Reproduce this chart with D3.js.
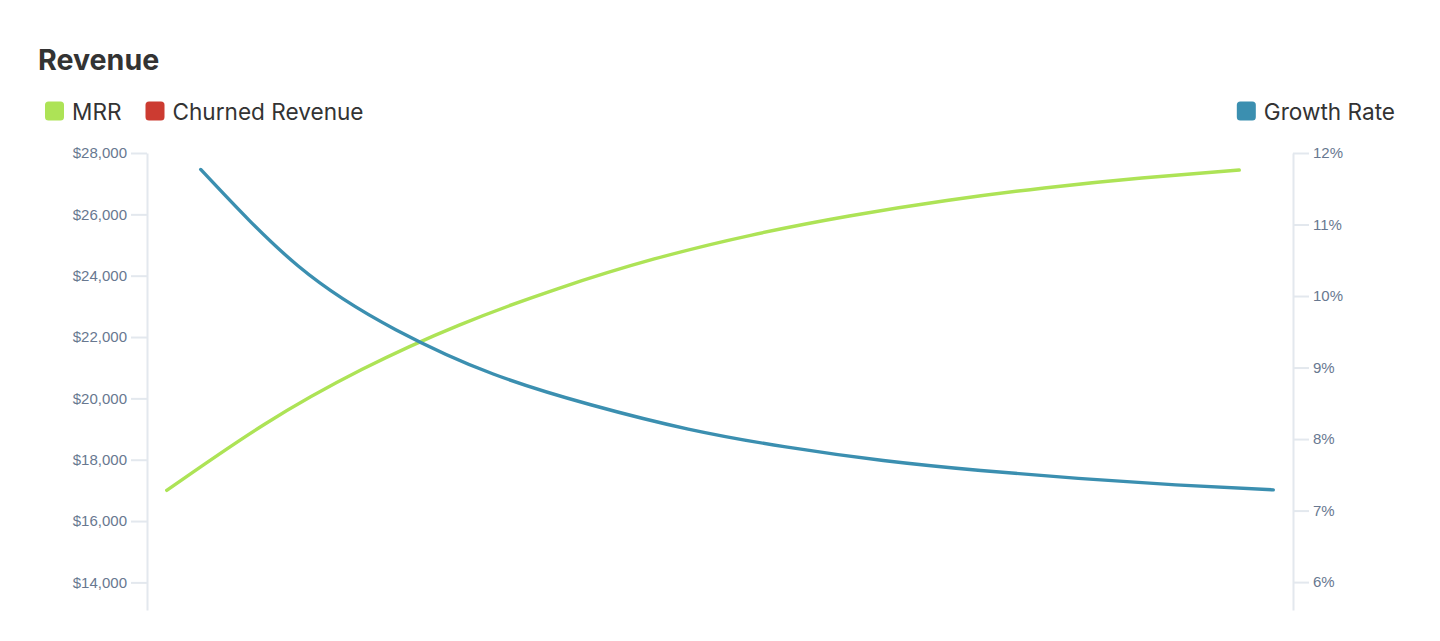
<!DOCTYPE html>
<html>
<head>
<meta charset="utf-8">
<script src="https://cdn.jsdelivr.net/npm/d3@7"></script>
<style>
  html, body { margin: 0; padding: 0; background: #ffffff; }
  svg { display: block; }
</style>
</head>
<body>
<svg id="chart" width="1440" height="641"></svg>
<script>
// ---------- data ----------
const months = ["Jan", "Feb", "Mar", "Apr", "May", "Jun", "Jul", "Aug", "Sep", "Oct", "Nov", "Dec"];
const seriesNames = ["MRR", "Churned Revenue", "Growth Rate"];
const mrrValues = [17000, 19150, 20940, 22390, 23565, 24545, 25325, 25945, 26450, 26860, 27185, 27445];
const churnedValues = [];
const growthValues = [11.77, 10.42, 9.53, 8.91, 8.48, 8.14, 7.89, 7.70, 7.56, 7.45, 7.36, 7.29];
const leftTicks = [14000, 16000, 18000, 20000, 22000, 24000, 26000, 28000];
const rightTicks = [6, 7, 8, 9, 10, 11, 12];
const colors = { "MRR": "#ade356", "Churned Revenue": "#cc3b31", "Growth Rate": "#3b8fb0" };

// ---------- layout ----------
const svg = d3.select("#chart");
const plotLeft = 147, plotRight = 1293, plotTop = 153, plotBottom = 610;
const tickColor = "#e3e8ee";
const labelColor = "#687890";

const x0 = d3.scaleBand().domain(months).range([plotLeft, plotRight])
  .paddingInner(0.477).paddingOuter(0.115);
const x1 = d3.scaleBand().domain(seriesNames).range([0, x0.bandwidth()]);
const xPos = (m, s) => x0(m) + x1(s) + x1.bandwidth() / 2;

const yLeft = d3.scaleLinear().domain([13100, 28000]).range([plotBottom, plotTop]);
const yRight = d3.scaleLinear().domain([5.61, 12]).range([plotBottom, plotTop]);

// ---------- title ----------
svg.append("text")
  .attr("x", 38).attr("y", 69.5)
  .attr("font-family", "Inter, 'Noto Sans', sans-serif")
  .attr("font-weight", 700)
  .attr("font-size", 28.6)
  .attr("fill", "#333333")
  .text("Revenue");

// ---------- legends ----------
const legendFont = "Inter, 'Noto Sans', sans-serif";
const legendSize = 22.6;
const legendBaseline = 119.5;
function drawLegendItem(g, name, x) {
  g.append("rect").attr("x", x).attr("y", 101.5).attr("width", 19).attr("height", 19)
    .attr("rx", 3.5).attr("fill", colors[name]);
  const t = g.append("text").attr("x", x + 27).attr("y", legendBaseline)
    .attr("font-family", legendFont).attr("font-size", legendSize)
    .attr("fill", "#333333").text(name);
  return x + 27 + t.node().getComputedTextLength();
}
const legL = svg.append("g");
let lx = 45;
["MRR", "Churned Revenue"].forEach(n => { lx = drawLegendItem(legL, n, lx) + 24; });

const legR = svg.append("g");
const tmp = legR.append("text").attr("font-family", legendFont).attr("font-size", legendSize).text("Growth Rate");
const wR = tmp.node().getComputedTextLength();
tmp.remove();
drawLegendItem(legR, "Growth Rate", 1395 - wR - 27);

// ---------- axes ----------
const fmtDollar = d => "$" + d3.format(",")(d);
const axL = svg.append("g").attr("transform", `translate(${plotLeft},0)`)
  .call(d3.axisLeft(yLeft).tickValues(leftTicks).tickFormat(fmtDollar)
    .tickSize(16).tickSizeOuter(0).tickPadding(4));
const axR = svg.append("g").attr("transform", `translate(${plotRight},0)`)
  .call(d3.axisRight(yRight).tickValues(rightTicks).tickFormat(d => d + "%")
    .tickSize(16).tickSizeOuter(0).tickPadding(4));
[axL, axR].forEach(ax => {
  ax.select(".domain").attr("stroke", tickColor).attr("stroke-width", 2);
  ax.selectAll(".tick line").attr("stroke", tickColor).attr("stroke-width", 2);
  ax.selectAll(".tick text").attr("fill", labelColor)
    .attr("font-family", "'Liberation Sans', Arial, sans-serif").attr("font-size", 15);
});

// ---------- lines ----------
const mrrLine = d3.line()
  .x((d, i) => xPos(months[i], "MRR"))
  .y(d => yLeft(d))
  .curve(d3.curveNatural);
const growthLine = d3.line()
  .x((d, i) => xPos(months[i], "Growth Rate"))
  .y(d => yRight(d))
  .curve(d3.curveNatural);

svg.append("path").datum(mrrValues).attr("d", mrrLine)
  .attr("fill", "none").attr("stroke", colors["MRR"]).attr("stroke-width", 3.4)
  .attr("stroke-linecap", "round").attr("stroke-linejoin", "round");
svg.append("path").datum(growthValues).attr("d", growthLine)
  .attr("fill", "none").attr("stroke", colors["Growth Rate"]).attr("stroke-width", 3.4)
  .attr("stroke-linecap", "round").attr("stroke-linejoin", "round");
</script>
</body>
</html>
